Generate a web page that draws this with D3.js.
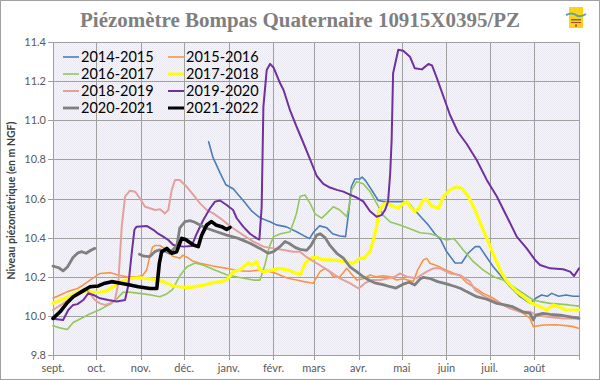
<!DOCTYPE html>
<html><head><meta charset="utf-8">
<script src="https://cdn.jsdelivr.net/npm/d3@7"></script>
<style>html,body{margin:0;padding:0;background:#fff}svg{display:block}</style>
</head><body><svg id="c" width="600" height="380"></svg>
<script>
// ---- data: [day since 1 Sept, level in m NGF] ----
const monthDays = [0,30,61,91,122,153,181,212,242,273,303,334,365];
const monthLabels = ["sept.","oct.","nov.","déc.","janv.","févr.","mars","avr.","mai","juin","juil.","août"];
const yTicks = [9.8,10.0,10.2,10.4,10.6,10.8,11.0,11.2,11.4];
const seriesNames = ["2014-2015","2015-2016","2016-2017","2017-2018","2018-2019","2019-2020","2020-2021","2021-2022"];
const seriesColors = ["#4a7ebb","#f79646","#92c85a","#ffff00","#e4a19c","#7030a0","#808080","#000000"];
const seriesWidths = [1.6,1.6,1.6,3.2,2,2,2.8,3.6];

const s2014 = [[108,10.89],[111,10.81],[116,10.73],[120,10.67],[125,10.65],[132,10.59],[138,10.535],[144,10.50],[151,10.48],[155,10.465],[162,10.455],[169,10.43],[174,10.41],[178,10.395],[181,10.43],[185,10.46],[190,10.45],[194,10.42],[199,10.408],[203,10.405],[205,10.52],[207,10.66],[209.6,10.70],[213,10.70],[214.5,10.71],[217,10.69],[221,10.645],[225.7,10.59],[230,10.584],[236,10.584],[243,10.584],[247,10.575],[251,10.54],[256,10.50],[260.4,10.465],[265,10.42],[269,10.39],[273,10.33],[279,10.27],[283.6,10.27],[288,10.32],[293,10.354],[296,10.354],[300,10.31],[305.6,10.25],[311.4,10.20],[317,10.15],[324,10.10],[331,10.065],[335,10.09],[339,10.107],[343,10.10],[346,10.115],[351,10.10],[356,10.107],[361,10.10],[365,10.10]];
const s2015 = [[0,10.09],[5,10.107],[10,10.124],[17,10.14],[21,10.158],[25.7,10.183],[32.6,10.217],[40,10.221],[45,10.209],[51,10.20],[58,10.20],[62,10.205],[65,10.234],[67,10.30],[69,10.35],[71,10.36],[74,10.36],[78.5,10.34],[83,10.305],[87,10.297],[88,10.294],[90,10.31],[93,10.30],[97,10.28],[102,10.269],[111,10.255],[120.5,10.243],[128.6,10.231],[136,10.228],[143.6,10.234],[149,10.23],[155,10.217],[160,10.20],[164.5,10.19],[169,10.183],[174,10.175],[180.6,10.167],[185.3,10.226],[188.8,10.243],[192,10.225],[194.5,10.20],[199,10.2],[201,10.217],[203.8,10.243],[207,10.215],[210.7,10.183],[215.3,10.19],[220,10.209],[224,10.20],[229,10.205],[234,10.20],[238.5,10.183],[243,10.19],[250,10.175],[253,10.234],[257,10.286],[259.3,10.294],[261.6,10.269],[265,10.26],[268,10.251],[271,10.24],[275.5,10.226],[282.4,10.205],[287,10.17],[291.7,10.149],[298.6,10.115],[305.6,10.09],[312.5,10.056],[319.4,10.039],[326.4,10.013],[331,9.987],[333.3,9.945],[340,9.953],[349,9.955],[356,9.95],[361,9.945],[365,9.936]];
const s2016 = [[0,9.95],[4,9.94],[10,9.93],[14,9.966],[18.5,9.983],[25,10.008],[32,10.03],[37,10.05],[40,10.06],[44,10.085],[48.5,10.12],[52,10.122],[56,10.119],[60,10.115],[65,10.11],[69,10.105],[74,10.098],[78.5,10.11],[83,10.136],[88,10.205],[92.8,10.25],[98.5,10.27],[104,10.26],[111,10.238],[120.5,10.21],[128.6,10.197],[139,10.183],[143.6,10.183],[147,10.26],[150,10.35],[153,10.405],[158,10.42],[164.5,10.43],[167,10.48],[169,10.525],[171.4,10.61],[174.9,10.618],[178.4,10.575],[182,10.52],[186.5,10.50],[190,10.524],[194.5,10.558],[199,10.541],[203.8,10.507],[205.5,10.56],[207.3,10.644],[210.7,10.686],[215.3,10.675],[220,10.635],[224.6,10.575],[229,10.515],[234,10.48],[240.8,10.465],[247.7,10.445],[254.7,10.425],[261.6,10.42],[266,10.41],[270,10.396],[273.2,10.388],[277.8,10.396],[280,10.38],[284.7,10.337],[291.7,10.277],[298.6,10.234],[305.6,10.20],[312.5,10.183],[319.4,10.149],[326.4,10.115],[333.3,10.081],[338,10.073],[345,10.064],[352,10.06],[358,10.056],[365,10.05]];
const s2017 = [[0,10.064],[4,10.076],[9,10.093],[14,10.11],[18.5,10.127],[23,10.127],[29,10.119],[33,10.122],[37,10.127],[42.7,10.153],[46,10.17],[53,10.19],[60,10.195],[65,10.19],[71.6,10.186],[78.5,10.17],[83,10.153],[88,10.149],[92.4,10.144],[97,10.147],[101.6,10.153],[106,10.16],[111,10.17],[116.6,10.175],[120.5,10.183],[123.6,10.21],[125,10.226],[129.8,10.234],[131,10.243],[135.5,10.272],[138,10.26],[141.4,10.277],[143.6,10.234],[146,10.226],[151.8,10.234],[157.5,10.243],[163.3,10.234],[169,10.217],[172,10.215],[174.9,10.269],[179.5,10.298],[183,10.298],[187.6,10.286],[192,10.286],[197,10.284],[202.6,10.277],[208.4,10.269],[213,10.294],[216.5,10.298],[220,10.33],[222,10.38],[224.6,10.456],[226,10.533],[229,10.567],[231.6,10.577],[236,10.56],[239.6,10.55],[243,10.575],[245.5,10.584],[248,10.558],[251,10.533],[254,10.55],[257,10.592],[259.3,10.596],[262.8,10.562],[267.4,10.55],[270.9,10.61],[275.5,10.644],[280,10.66],[283.6,10.652],[288.2,10.61],[292.9,10.541],[297.5,10.456],[302,10.38],[306.7,10.294],[311.4,10.217],[316,10.167],[321.8,10.124],[326.4,10.098],[332.2,10.064],[338,10.047],[342.6,10.03],[347.2,10.056],[351,10.047],[356,10.03],[365,10.03]];
const s2018 = [[0,10.03],[9,10.073],[18.7,10.124],[22,10.14],[25.7,10.115],[29,10.081],[32.6,10.064],[36,10.056],[39.6,10.064],[43,10.081],[45.3,10.167],[47.7,10.456],[50,10.61],[53.4,10.64],[57,10.635],[60.4,10.6],[63.8,10.558],[67.3,10.55],[70.8,10.541],[74.3,10.545],[77.7,10.524],[80,10.541],[82.4,10.644],[84.7,10.695],[88,10.695],[92.8,10.66],[97.4,10.618],[102,10.575],[106.7,10.541],[111.2,10.524],[115.9,10.50],[120.5,10.473],[125,10.448],[132,10.413],[139,10.38],[146,10.354],[153,10.345],[160,10.337],[166.8,10.328],[171.4,10.328],[176,10.30],[185,10.26],[192.2,10.226],[199,10.192],[206,10.167],[212,10.14],[216.5,10.167],[221,10.183],[227,10.183],[231,10.19],[237,10.20],[240.8,10.217],[245.5,10.2],[252,10.192],[259.3,10.226],[264,10.243],[268.6,10.243],[275.5,10.217],[282.4,10.209],[289.4,10.175],[292.9,10.132],[299.8,10.098],[310,10.064],[317,10.039],[324,10.021],[331,10.021],[335.6,10.004],[342.6,9.996],[354,9.987],[365,9.987]];
const s2019 = [[0,9.985],[7,9.979],[10.6,10.03],[14,10.056],[17,10.06],[21,10.081],[24.5,10.115],[28,10.107],[32.6,10.09],[38.4,10.081],[44.2,10.073],[50,10.081],[52.3,10.158],[54.6,10.32],[56.5,10.44],[58,10.456],[65,10.46],[69.6,10.44],[73,10.42],[76.5,10.405],[80,10.388],[83.5,10.362],[90.4,10.354],[96.2,10.357],[99.7,10.42],[104.3,10.49],[109,10.55],[112.4,10.584],[115.9,10.59],[120.5,10.567],[125,10.541],[127.5,10.499],[132,10.456],[136.7,10.42],[141.4,10.396],[143.2,10.39],[144.8,10.558],[146,11.07],[148.3,11.257],[150.6,11.288],[153,11.27],[157.5,11.19],[160,11.155],[164.5,11.05],[169,10.967],[173.7,10.885],[178.4,10.80],[183,10.715],[187.6,10.675],[192.2,10.656],[197,10.644],[201.5,10.635],[206,10.62],[210.7,10.605],[215.3,10.585],[220,10.535],[224.6,10.507],[228,10.515],[230.4,10.541],[232.5,10.584],[234,10.73],[235,10.90],[236,11.24],[239.6,11.36],[243,11.355],[247.7,11.325],[251,11.266],[256,11.26],[260.5,11.288],[263,11.28],[266,11.223],[271,11.12],[275.5,11.027],[281,10.94],[287,10.88],[294,10.797],[301,10.695],[308,10.61],[315,10.507],[321.8,10.405],[328.7,10.345],[334.5,10.286],[338,10.26],[345,10.243],[354,10.238],[358.8,10.226],[361.6,10.204],[363.5,10.226],[365,10.243]];
const s2020 = [[0,10.254],[4,10.246],[7,10.23],[10,10.25],[14,10.30],[17.3,10.322],[20,10.328],[23,10.32],[26.6,10.337],[29,10.345],null,[60,10.315],[63,10.305],[67,10.303],[71,10.33],[74,10.337],[78,10.33],[80.8,10.32],[83,10.337],[86,10.36],[88,10.45],[91.6,10.482],[95,10.487],[98,10.48],[102,10.465],[106.6,10.448],[113.6,10.43],[120.5,10.413],[128.6,10.396],[136.7,10.371],[143.6,10.345],[149.4,10.32],[153,10.328],[157.5,10.354],[161,10.38],[164,10.37],[168,10.35],[171.4,10.34],[176,10.335],[179,10.36],[183,10.413],[185.3,10.42],[188.8,10.40],[192.2,10.36],[196.9,10.32],[201.5,10.295],[206,10.251],[210.7,10.226],[215.3,10.20],[220,10.18],[224,10.167],[229,10.16],[234,10.149],[238,10.142],[243,10.162],[247,10.172],[251,10.158],[254.7,10.188],[257,10.197],[262,10.19],[267,10.175],[271,10.167],[275.5,10.158],[279,10.15],[283,10.14],[287,10.124],[294,10.098],[301,10.085],[308,10.064],[312.5,10.058],[319,10.047],[326,10.021],[331,10.013],[333.3,9.979],[335,10.004],[340,10.013],[345,10.008],[352,10.004],[358,9.996],[365,9.987]];
const s2021 = [[0,9.987],[4.9,10.021],[9.5,10.064],[14,10.098],[20,10.124],[25.7,10.149],[31.5,10.153],[36,10.167],[40.7,10.175],[47,10.167],[53.4,10.158],[59.2,10.149],[67.3,10.14],[72,10.14],[73.8,10.269],[75.4,10.328],[78.9,10.345],[82.4,10.32],[85.8,10.328],[89.3,10.396],[92,10.39],[97.4,10.362],[100.8,10.354],[103.2,10.413],[106.7,10.465],[110,10.482],[113,10.465],[117,10.456],[120.5,10.442],[122.8,10.452]];
const seriesData = [s2014,s2015,s2016,s2017,s2018,s2019,s2020,s2021];

const svg = d3.select("#c");
const W = 600, H = 380;
const m = {l:53, r:21, t:42, b:25};
const x = d3.scaleLinear().domain([0,365]).range([m.l, W-m.r]);
const y = d3.scaleLinear().domain([9.8,11.4]).range([H-m.b, m.t]);

svg.append("rect").attr("x",0.5).attr("y",0.5).attr("width",W-1).attr("height",H-1)
  .attr("fill","#fff").attr("stroke","#a0a0a0");

// plot background with a fine dither pattern
const defs = svg.append("defs");
const pat = defs.append("pattern").attr("id","dots").attr("width",2).attr("height",2).attr("patternUnits","userSpaceOnUse");
pat.append("rect").attr("width",2).attr("height",2).attr("fill","#f7f6f6");
pat.append("rect").attr("x",0).attr("y",0).attr("width",1).attr("height",1).attr("fill","#e8e7ef");
pat.append("rect").attr("x",1).attr("y",1).attr("width",1).attr("height",1).attr("fill","#f1e8ea");
svg.append("rect").attr("x",x(0)).attr("y",y(11.4)).attr("width",x(365)-x(0)).attr("height",y(9.8)-y(11.4))
  .attr("fill","url(#dots)");

// gridlines
const g = svg.append("g");
g.selectAll("line.h").data(yTicks).join("line")
  .attr("x1",x(0)).attr("x2",x(365)).attr("y1",d=>Math.round(y(d))+0.5).attr("y2",d=>Math.round(y(d))+0.5)
  .attr("stroke","#a0a0a0").attr("stroke-width",1);
g.selectAll("line.v").data(monthDays).join("line")
  .attr("y1",y(11.4)).attr("y2",y(9.8)+5).attr("x1",d=>Math.round(x(d))+0.5).attr("x2",d=>Math.round(x(d))+0.5)
  .attr("stroke","#a0a0a0").attr("stroke-width",1);
// y tick marks
g.selectAll("line.yt").data(yTicks).join("line")
  .attr("x1",x(0)-5).attr("x2",x(0)).attr("y1",d=>Math.round(y(d))+0.5).attr("y2",d=>Math.round(y(d))+0.5)
  .attr("stroke","#a0a0a0");

// y labels
svg.append("g").selectAll("text").data(yTicks).join("text")
  .attr("x",x(0)-7).attr("y",d=>y(d)+4).attr("text-anchor","end")
  .attr("font-family","Lato, 'Open Sans', sans-serif").attr("font-size",11).attr("fill","#595959")
  .text(d=>d3.format(".1f")(d));
// x labels
svg.append("g").selectAll("text").data(monthLabels).join("text")
  .attr("x",(d,i)=>x(monthDays[i])).attr("y",y(9.8)+17).attr("text-anchor","middle")
  .attr("font-family","Lato, 'Open Sans', sans-serif").attr("font-size",11).attr("fill","#595959")
  .text(d=>d);

// axis title
svg.append("text").attr("transform",`translate(15,${(y(9.8)+y(11.4))/2+2}) rotate(-90)`)
  .attr("text-anchor","middle").attr("font-family","Lato, 'Open Sans', sans-serif").attr("font-weight","bold")
  .attr("font-size",10.5).attr("fill","#404040").text("Niveau piézométrique (en m NGF)");

// title
svg.append("text").attr("x",300).attr("y",27).attr("text-anchor","middle")
  .attr("font-family","'Liberation Serif', 'DejaVu Serif', serif").attr("font-weight","bold")
  .attr("font-size",20).attr("fill","#7f7f7f").attr("textLength",440).attr("lengthAdjust","spacingAndGlyphs")
  .text("Piézomètre Bompas Quaternaire 10915X0395/PZ");

// logo
const lg = svg.append("g");
lg.append("rect").attr("x",569).attr("y",7).attr("width",14).attr("height",21).attr("fill","#ffd21a");
lg.append("path").attr("d","M566,15 Q572,12 576,15 T586,14").attr("stroke","#5aa5a0").attr("stroke-width",2).attr("fill","none");
lg.append("rect").attr("x",571).attr("y",19).attr("width",10).attr("height",1.5).attr("fill","#6a7a2a");
lg.append("rect").attr("x",571).attr("y",22).attr("width",10).attr("height",1).attr("fill","#c04020");
lg.append("rect").attr("x",575).attr("y",24.5).attr("width",2).attr("height",2).attr("fill","#c04020");

// series
const line = d3.line().defined(d=>d!==null).x(d=>x(d[0])).y(d=>y(d[1]));
svg.append("g").selectAll("path").data(seriesData).join("path")
  .attr("d",line).attr("fill","none")
  .attr("stroke",(d,i)=>seriesColors[i]).attr("stroke-width",(d,i)=>seriesWidths[i])
  .attr("stroke-linejoin","round").attr("stroke-linecap","round");

// legend
const lgd = svg.append("g");
seriesNames.forEach((n,i)=>{
  const col = i%2, row = Math.floor(i/2);
  const lx = col===0 ? 63 : 168;
  const ly = 57 + row*17;
  lgd.append("line").attr("x1",lx).attr("x2",lx+16).attr("y1",ly).attr("y2",ly)
    .attr("stroke",seriesColors[i]).attr("stroke-width",Math.min(seriesWidths[i],3));
  lgd.append("text").attr("x",lx+18).attr("y",ly+5).attr("font-family","Lato, 'Open Sans', sans-serif")
    .attr("font-size",14.5).attr("fill","#000").text(n);
});
</script></body></html>
